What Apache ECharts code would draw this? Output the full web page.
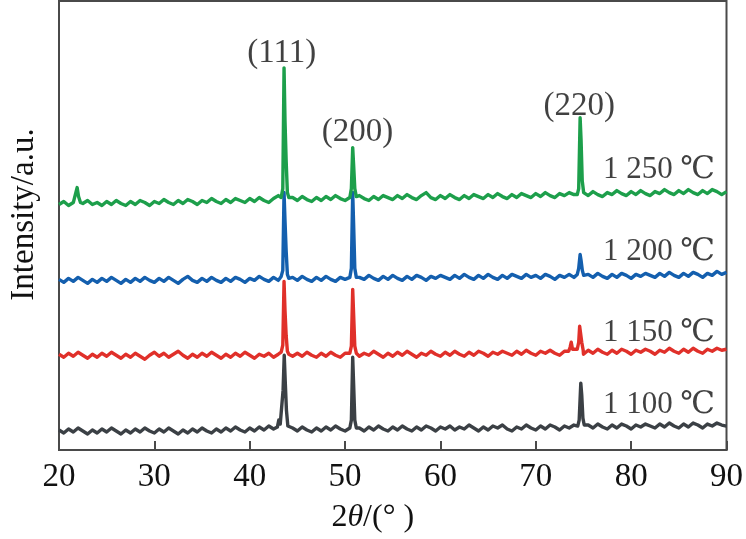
<!DOCTYPE html>
<html>
<head>
<meta charset="utf-8">
<script src="https://cdn.jsdelivr.net/npm/echarts@6/dist/echarts.min.js"></script>
<style>
  html, body { margin: 0; padding: 0; background: #fff; }
  #main { width: 746px; height: 539px; }
</style>
</head>
<body>
<div id="main"></div>
<script>
// 扫描角度：20° 到 90°，步长 0.5°
var ANGLE_START = 20;
var ANGLE_STEP = 0.5;

// 各温度的背景曲线（已叠加偏移，每 0.5° 一个点）
var base_1100 = [
  20,17,21,18,22,19,16,20,17,21, 18,22,19,16,20,17,21,18,22,19,
  17,21,18,22,19,16,20,17,21,18, 22,19,17,21,18,22,19,23,20,18,
  22,19,23,20,24,21,25,22,19,22, 19,23,20,18,22,19,23,20,24,21,
  19,23,20,22,19,23,20,24,21,19, 23,20,24,21,19,23,20,24,22,19,
  23,21,24,20,23,21,25,22,19,23, 20,24,22,25,21,19,23,21,25,22,
  20,24,21,25,23,20,24,22,25,23, 21,25,22,26,23,21,25,22,26,24,
  21,25,23,26,24,22,26,23,27,24, 22,26,23,27,25,22,26,24,27,25,
  24
];
var base_1150 = [
  96,93,97,94,98,95,92,96,93,97, 94,98,95,92,96,93,97,94,91,95,
  98,94,97,93,96,99,95,92,96,93, 97,94,98,95,92,96,93,97,94,98,
  95,92,96,94,97,93,96,95,98,94, 97,94,98,95,93,97,94,98,95,93,
  97,95,98,94,97,95,99,96,93,97, 94,98,95,99,96,93,97,95,99,96,
  94,98,95,99,96,94,98,95,99,97, 94,98,96,99,97,95,99,96,100,97,
  95,99,97,100,97,95,99,97,100,98, 96,100,97,101,98,96,100,97,101,99,
  96,100,98,101,99,96,100,98,102,99, 97,101,98,102,99,97,101,99,102,100,
  101
];
var base_1200 = [
  171,168,172,169,173,170,167,171,168,172, 169,173,170,167,171,168,172,169,173,170,
  168,172,169,173,170,167,171,174,170,168, 172,169,173,170,168,172,169,173,171,168,
  172,170,174,171,169,173,170,172,169,173, 170,174,171,169,173,170,174,171,169,173,
  171,174,170,173,171,175,172,170,174,171, 175,172,170,174,171,175,173,170,174,172,
  175,173,171,175,172,176,173,171,175,172, 176,173,171,175,172,176,174,172,176,173,
  175,172,176,174,171,175,173,176,173,175, 172,176,173,177,174,172,176,173,177,175,
  172,176,174,177,175,173,177,174,178,175, 173,177,174,178,176,173,177,175,179,176,
  178
];
var base_1250 = [
  246,249,245,248,244,247,250,246,248,245, 249,246,250,247,245,249,246,250,248,245,
  249,247,251,248,246,250,247,251,249,246, 250,248,252,249,247,251,248,252,250,248,
  252,249,253,250,248,252,255,251,249,253, 250,254,251,249,253,250,254,251,255,252,
  250,254,251,255,252,250,254,251,255,253, 251,255,252,256,253,251,255,258,253,251,
  255,252,256,253,251,255,252,256,254,252, 256,253,257,254,252,256,253,257,255,253,
  257,254,258,255,253,257,255,258,256,254, 258,255,259,256,254,258,256,260,257,255,
  259,256,260,257,255,259,257,261,258,256, 260,257,261,258,256,260,257,261,259,256,
  259
];

// 衍射峰 [2θ, 强度]
var peaks_1100 = [
  [[42.9,23],[43.05,30],[43.2,26],[43.35,28],[43.5,60],[43.62,95],[43.72,70],[43.85,40],[44.0,24]],
  [[50.5,22],[50.66,30],[50.8,93],[50.9,65],[51.02,30],[51.18,22]],
  [[74.4,24],[74.55,30],[74.72,67],[74.82,55],[74.94,32],[75.08,25]]
];
var peaks_1150 = [
  [[43.3,98],[43.47,105],[43.6,169],[43.7,140],[43.82,115],[43.95,99],[44.1,96]],
  [[50.5,97],[50.66,104],[50.8,161],[50.9,135],[51.02,104],[51.18,97]],
  [[73.45,99],[73.6,103],[73.72,108],[73.85,101],[74.05,99],[74.35,101],[74.5,108],[74.6,124],[74.7,122],[74.82,108],[74.97,100]]
];
var peaks_1200 = [
  [[43.3,174],[43.47,180],[43.6,258],[43.7,230],[43.82,200],[43.95,176],[44.1,172]],
  [[50.5,173],[50.66,182],[50.8,258],[50.9,225],[51.02,182],[51.18,173]],
  [[74.35,176],[74.5,182],[74.65,196],[74.75,190],[74.88,180],[75.02,175]]
];
var peaks_1250 = [
  [[21.7,249],[21.9,263],[22.05,254],[22.25,248]],
  [[43.3,253],[43.47,262],[43.6,383],[43.7,330],[43.82,290],[43.95,258],[44.1,253]],
  [[50.5,253],[50.66,262],[50.8,303],[50.9,285],[51.02,262],[51.18,254]],
  [[74.35,256],[74.5,262],[74.65,333],[74.75,310],[74.87,270],[75.02,258]]
];

// 晶面标注与温度标注
var hkl_names = ['(111)', '(200)', '(220)'];
var hkl_pos = [[43.35, 398], [51.3, 318], [74.57, 344]];
var temp_names = ['1 100 ℃', '1 150 ℃', '1 200 ℃', '1 250 ℃'];
var temp_pos = [[88.8, 45], [88.8, 117], [88.8, 199], [88.8, 281]];

var colors = ['#3b4045', '#e0302a', '#145fae', '#1d9f4b'];
var serif = '"Liberation Serif", "Times New Roman", "DejaVu Serif", serif';
var textColor = '#111';

// 背景 + 峰合并成一条曲线
function buildData(base, peaks) {
  var pts = [];
  for (var i = 0; i < base.length; i++) {
    var x = ANGLE_START + i * ANGLE_STEP;
    var skip = false;
    peaks.forEach(function (g) {
      if (x >= g[0][0] && x <= g[g.length - 1][0]) skip = true;
    });
    if (!skip) pts.push([x, base[i]]);
  }
  peaks.forEach(function (g) { pts = pts.concat(g); });
  pts.sort(function (a, b) { return a[0] - b[0]; });
  return pts;
}

var curves = [
  buildData(base_1100, peaks_1100),
  buildData(base_1150, peaks_1150),
  buildData(base_1200, peaks_1200),
  buildData(base_1250, peaks_1250)
];

var series = [];
curves.forEach(function (d, i) {
  series.push({
    type: 'line',
    data: d,
    showSymbol: false,
    silent: true,
    lineStyle: { color: colors[i], width: 3.4, join: 'round' },
    z: 2 + i
  });
});

// 文字标注
series.push({
  type: 'scatter',
  symbolSize: 0,
  silent: true,
  z: 10,
  data: hkl_pos.map(function (p, i) { return { value: p, name: hkl_names[i] }; }),
  label: {
    show: true, position: 'inside', formatter: '{b}',
    color: textColor, fontFamily: serif, fontSize: 33
  }
});
series.push({
  type: 'scatter',
  symbolSize: 0,
  silent: true,
  z: 10,
  data: temp_pos.map(function (p, i) { return { value: p, name: temp_names[i] }; }),
  label: {
    show: true, position: 'left', distance: 0, formatter: '{b}',
    color: textColor, fontFamily: serif, fontSize: 31
  }
});

var chart = echarts.init(document.getElementById('main'));
chart.setOption({
  animation: false,
  backgroundColor: '#fff',
  grid: {
    left: 52, right: 18, top: 1, bottom: 88,
    show: true, borderColor: '#4a4a4a', borderWidth: 2
  },
  xAxis: {
    type: 'value', min: 20, max: 90, interval: 10,
    axisLine: { show: true, lineStyle: { color: '#4a4a4a', width: 2 } },
    axisTick: { show: true, inside: true, length: 9, lineStyle: { color: '#4a4a4a', width: 2 } },
    splitLine: { show: false },
    axisLabel: { color: textColor, fontFamily: serif, fontSize: 33, margin: 11 },
    name: '2{i|θ}/(° )',
    nameLocation: 'middle',
    nameGap: 52,
    nameTextStyle: {
      color: textColor, fontFamily: serif, fontSize: 32, padding: [0, 40, 0, 0],
      rich: { i: { fontStyle: 'italic', fontFamily: serif, fontSize: 32, color: textColor } }
    }
  },
  yAxis: {
    type: 'value', min: 0, max: 450,
    axisLine: { show: true, lineStyle: { color: '#4a4a4a', width: 2 } },
    axisTick: { show: false },
    axisLabel: { show: false },
    splitLine: { show: false },
    name: 'Intensity/a.u.',
    nameLocation: 'middle',
    nameRotate: 90,
    nameGap: 18,
    nameTextStyle: { color: textColor, fontFamily: serif, fontSize: 33, padding: [0, 0, 0, 22] }
  },
  series: series
});
</script>
</body>
</html>
